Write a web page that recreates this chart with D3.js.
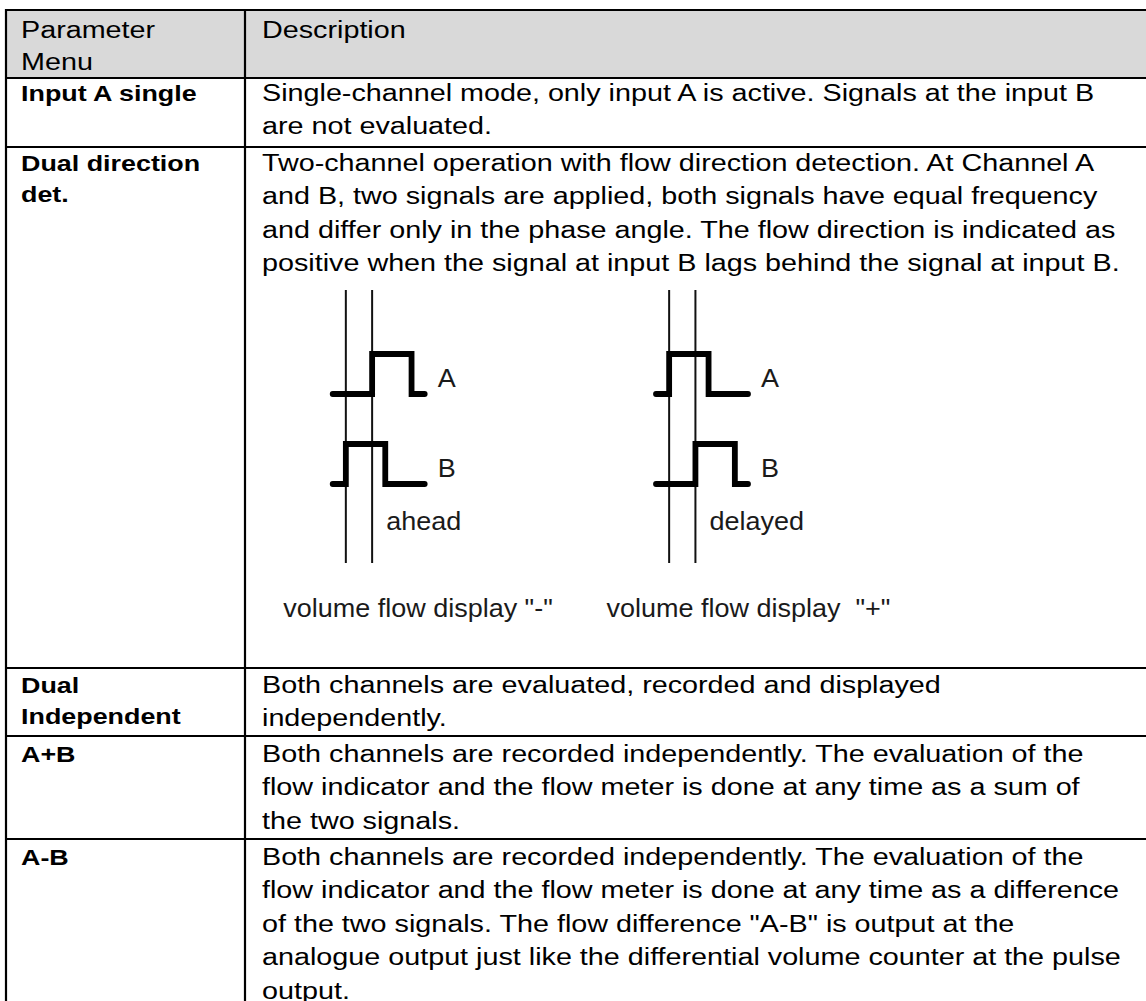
<!DOCTYPE html>
<html><head><meta charset="utf-8">
<script src="https://cdn.jsdelivr.net/npm/d3@7"></script>
<style>html,body{margin:0;padding:0;background:#fff;overflow:hidden}</style>
</head><body><svg id="c" width="1146" height="1001"></svg>
<script>
// ---------- data ----------
const headerLabels = ["Parameter", "Menu"];
const headerDesc = ["Description"];
const menuLabels = [["Input A single"], ["Dual direction", "det."], ["Dual", "Independent"], ["A+B"], ["A-B"]];
const descriptions = [
  ["Single-channel mode, only input A is active. Signals at the input B", "are not evaluated."],
  ["Two-channel operation with flow direction detection. At Channel A",
   "and B, two signals are applied, both signals have equal frequency",
   "and differ only in the phase angle. The flow direction is indicated as",
   "positive when the signal at input B lags behind the signal at input B."],
  ["Both channels are evaluated, recorded and displayed", "independently."],
  ["Both channels are recorded independently. The evaluation of the",
   "flow indicator and the flow meter is done at any time as a sum of",
   "the two signals."],
  ["Both channels are recorded independently. The evaluation of the",
   "flow indicator and the flow meter is done at any time as a difference",
   "of the two signals. The flow difference \"A-B\" is output at the",
   "analogue output just like the differential volume counter at the pulse",
   "output."]
];
const diagramNames = ["ahead", "delayed"];
const diagramCaptions = ['volume flow display "-"', 'volume flow display  "+"'];
const signalNames = ["A", "B"];
const pulseA = [[3, 6], [1, 4]];   // [rise, fall] time units, per diagram
const pulseB = [[1, 4], [3, 6]];
const markerTimes = [1, 3];
const timeSpan = [0, 7];

// ---------- layout ----------
const svg = d3.select("#c");
const FONT = "'Liberation Sans', Arial, Helvetica, sans-serif";
const SX = 1.25;               // horizontal stretch of the original document
const SXD = 1.08;              // stretch of the diagram lettering
const tableLeft = 6, colX = 245, tableRight = 1160;
const rowEdges = [10, 78, 147, 668, 736, 839, 1030];
const LH = 33.4;

function stretchedText(g, x, y, str, size, weight, fill, sx) {
  return g.append("text")
    .attr("transform", `translate(${x},${y}) scale(${sx || SX},1)`)
    .attr("font-family", FONT).attr("font-size", size)
    .attr("font-weight", weight || "normal")
    .attr("fill", fill || "#000")
    .style("white-space", "pre")
    .text(str);
}

// header background
svg.append("rect").attr("x", tableLeft).attr("y", rowEdges[0])
  .attr("width", tableRight - tableLeft).attr("height", rowEdges[1] - rowEdges[0])
  .attr("fill", "#d9d9d9");

// grid lines
const grid = svg.append("g").attr("stroke", "#000").attr("stroke-width", 2.2);
rowEdges.slice(0, -1).forEach(y => {
  grid.append("line").attr("x1", tableLeft - 1).attr("x2", tableRight).attr("y1", y).attr("y2", y);
});
[tableLeft, colX].forEach(x => {
  grid.append("line").attr("x1", x).attr("x2", x).attr("y1", rowEdges[0] - 1).attr("y2", 1010);
});

const txt = svg.append("g");
// header text
headerLabels.forEach((s, i) => stretchedText(txt, 21, rowEdges[0] + 28 + i * 32, s, 23));
headerDesc.forEach((s, i) => stretchedText(txt, 262, rowEdges[0] + 28 + i * 32, s, 23));

const firstOff = [23, 24, 25, 26, 26];
menuLabels.forEach((lines, r) => {
  lines.forEach((s, i) => stretchedText(txt, 21, rowEdges[r + 1] + firstOff[r] + i * 31, s, 21.5, "bold"));
});
descriptions.forEach((lines, r) => {
  lines.forEach((s, i) => stretchedText(txt, 262, rowEdges[r + 1] + firstOff[r] + i * LH, s, 23));
});

// ---------- diagrams ----------
const dg = svg.append("g");
const panelX0 = 332.7, panelStep = 323.3, panelW = 92;
const levelY = d3.scaleLinear().domain([0, 1]).range([0, -40]);
const sigBase = d3.scalePoint().domain(signalNames).range([394, 484]);

diagramNames.forEach((name, p) => {
  const x = d3.scaleLinear().domain(timeSpan).range([panelX0 + p * panelStep, panelX0 + p * panelStep + panelW]);
  // marker lines
  markerTimes.forEach(t => {
    dg.append("line").attr("x1", x(t)).attr("x2", x(t)).attr("y1", 290).attr("y2", 563)
      .attr("stroke", "#111").attr("stroke-width", 2);
  });
  [pulseA[p], pulseB[p]].forEach((pl, k) => {
    const base = sigBase(signalNames[k]);
    const pts = [[timeSpan[0], 0], [pl[0], 0], [pl[0], 1], [pl[1], 1], [pl[1], 0], [timeSpan[1], 0]];
    const line = d3.line().x(d => x(d[0])).y(d => base + levelY(d[1]));
    dg.append("path").attr("d", line(pts)).attr("fill", "none").attr("stroke", "#000")
      .attr("stroke-width", 5.8).attr("stroke-linecap", "round").attr("stroke-linejoin", "miter");
    stretchedText(dg, x(timeSpan[1]) + 13, base - 7, signalNames[k], 25, "normal", "#1a1a1a", SXD);
  });
  stretchedText(dg, x(markerTimes[1]) + 14, 530, name, 25, "normal", "#1a1a1a", SXD);
  stretchedText(dg, x(timeSpan[0]) - 49.5, 617, diagramCaptions[p], 25, "normal", "#1a1a1a", SXD);
});
</script></body></html>
